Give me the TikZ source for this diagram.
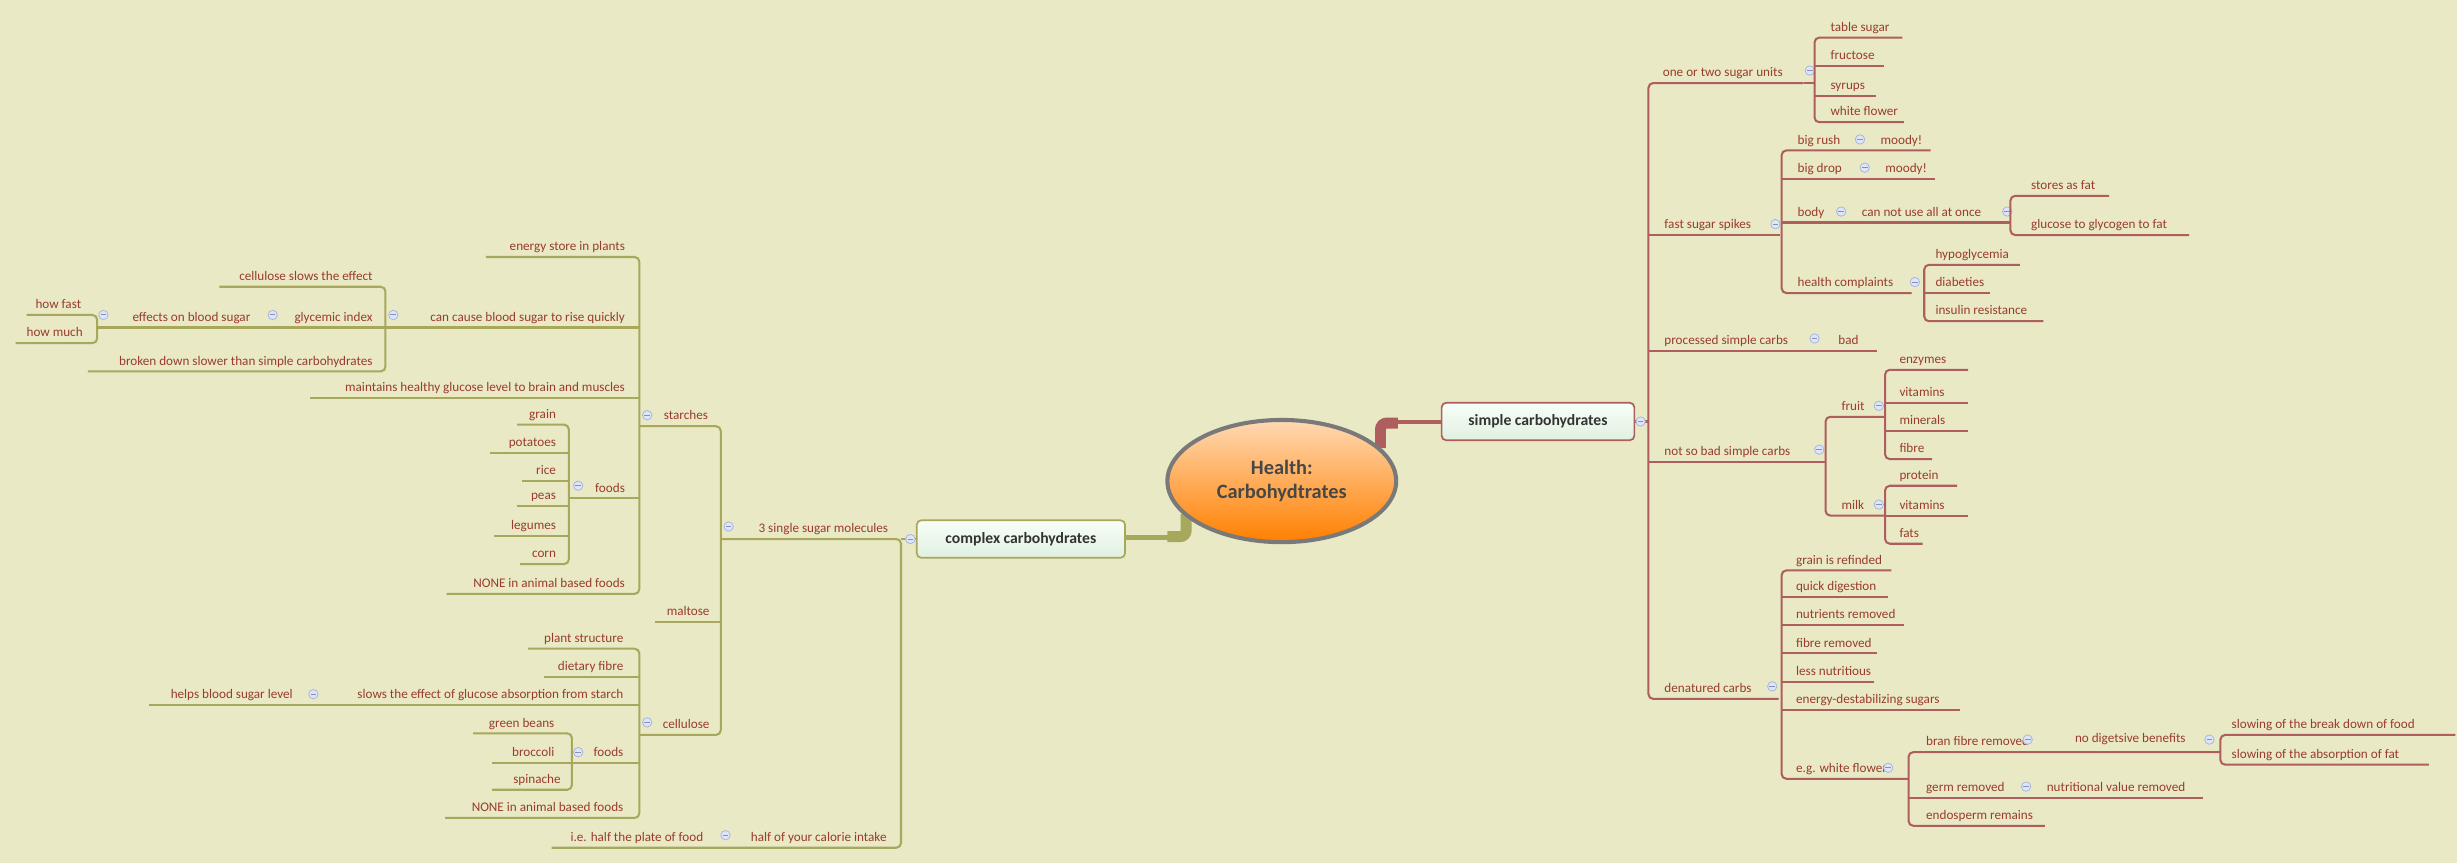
\documentclass[tikz,border=0pt]{standalone}
\usepackage{fontspec}
\setmainfont{Carlito}
\usetikzlibrary{shapes.geometric}
\begin{document}
\begin{tikzpicture}[x=1pt,y=-1pt,
  rl/.style={draw=rline,line width=1.3,rounded corners=3},
  ll/.style={draw=lline,line width=1.3,rounded corners=3},
  tx/.style={text=txt,inner sep=0,font=\fontsize{8.4}{10}\selectfont},
  mk/.style={circle,minimum size=6,inner sep=0,draw=mkb,fill=mkf,line width=0.5,
    path picture={\draw[mkb!80!black,line width=0.6]([xshift=-1.8pt]path picture bounding box.center)--([xshift=1.8pt]path picture bounding box.center);}}]
\definecolor{bg}{HTML}{E9E9C6}
\definecolor{rline}{HTML}{AE5E5C}
\definecolor{lline}{HTML}{A8A85C}
\definecolor{txt}{HTML}{9A3C2C}
\definecolor{mkb}{HTML}{A6B6E2}
\definecolor{mkf}{HTML}{DEE5F6}
\fill[bg] (0,0) rectangle (1568,551);
\useasboundingbox (0,0) rectangle (1568,551);
% macros
\newcommand\R[4]{\node[tx,anchor=base west] (#1) at (#2,#3-4) {#4};}
\newcommand\Lt[4]{\node[tx,anchor=base east] (#1) at (#2,#3-4) {#4};}
\newcommand\Mk[3]{\node[mk] (#1) at (#2,#3) {};}
\newcommand\Br[6]{\draw[#1] (#4,#3) -- (#2,#3) -- (#2,#5) -- (#6,#5);}
\newcommand\Hl[4]{\draw[#1] (#2,#4) -- (#3,#4);}

% ---------- centre ----------
\draw[rline,line width=7,rounded corners=4] (881,286) -- (881,270) -- (892,270);
\draw[rline,line width=2.5] (888,269.5) -- (920,269.5);
\draw[lline,line width=7,rounded corners=4] (757,328) -- (757,342.5) -- (745,342.5);
\draw[lline,line width=3.5] (748,343) -- (718,343);
\node[ellipse,minimum width=146,minimum height=78,draw=gray!95!black,line width=2.6,
  top color=orange!30!white,bottom color=orange,shading angle=0,
  font=\bfseries\fontsize{13}{15}\selectfont,text=black!72,align=center] (root) at (818,307) {Health:\\Carbohydtrates};
\node[draw=rline,line width=1.1,rounded corners=3,top color=green!3!white,bottom color=green!50!black!12!white,
  minimum width=123,minimum height=24,font=\bfseries\fontsize{10}{12}\selectfont,text=black!80] (simple) at (981.5,269) {simple carbohydrates};
\node[draw=lline,line width=1.1,rounded corners=3,top color=green!3!white,bottom color=green!50!black!12!white,
  minimum width=133,minimum height=24,font=\bfseries\fontsize{10}{12}\selectfont,text=black!80] (complex) at (651.5,344) {complex carbohydrates};

% ---------- right side ----------
\draw[rl] (simple.east) -- (1052,269);
\Mk{ms}{1047}{269}
\Br{rl}{1052}{53}{1151}{446}{1135}
\Hl{rl}{1052}{1136}{150}\Hl{rl}{1052}{1198}{224}\Hl{rl}{1052}{1165}{295}
\R{a1}{1061}{53}{one or two sugar units}\Mk{m1}{1155}{45}
\R{a2}{1062}{150}{fast sugar spikes}\Mk{m2}{1133}{143}
\R{a3}{1062}{224}{processed simple carbs}\Mk{m3}{1158}{216}\R{a3b}{1173}{224}{bad}
\R{a4}{1062}{295}{not so bad simple carbs}\Mk{m4}{1161}{287}
\R{a5}{1062}{446}{denatured carbs}\Mk{m5}{1131}{438}
% B
\Hl{rl}{1151}{1158}{53}
\Br{rl}{1158}{24}{1214}{78}{1215}\Hl{rl}{1158}{1202}{42}\Hl{rl}{1158}{1197}{61}
\R{b1}{1168}{24}{table sugar}\R{b2}{1168}{42}{fructose}\R{b3}{1168}{61}{syrups}\R{b4}{1168}{78}{white flower}
% C
\Br{rl}{1137}{96}{1232}{187}{1220}\Hl{rl}{1137}{1235}{114}\Hl{rl}{1137}{1283}{142}
\R{c1}{1147}{96}{big rush}\Mk{mc1}{1187}{89}\R{c1b}{1200}{96}{moody!}
\R{c2}{1147}{114}{big drop}\Mk{mc2}{1190}{107}\R{c2b}{1203}{114}{moody!}
\R{c3}{1147}{142}{body}\Mk{mc3}{1175}{135}\R{c3b}{1188}{142}{can not use all at once}\Mk{mc4}{1281}{135}
\R{c4}{1147}{187}{health complaints}\Mk{mc5}{1222}{180}
% D
\Br{rl}{1283}{125}{1346}{150}{1397}
\R{d1}{1296}{125}{stores as fat}\R{d2}{1296}{150}{glucose to glycogen to fat}
% E
\Br{rl}{1228}{169}{1289}{205}{1304}\Hl{rl}{1228}{1270}{187}
\R{e1}{1235}{169}{hypoglycemia}\R{e2}{1235}{187}{diabeties}\R{e3}{1235}{205}{insulin resistance}
% F
\Br{rl}{1165}{266}{1203}{329}{1203}
\R{f1}{1175}{266}{fruit}\Mk{mf1}{1199}{259}\R{f2}{1175}{329}{milk}\Mk{mf2}{1199}{322}
\Br{rl}{1203}{236}{1256}{293}{1233}\Hl{rl}{1203}{1256}{257}\Hl{rl}{1203}{1256}{275}
\R{g1}{1212}{236}{enzymes}\R{g2}{1212}{257}{vitamins}\R{g3}{1212}{275}{minerals}\R{g4}{1212}{293}{fibre}
\Br{rl}{1203}{310}{1249}{347}{1227}\Hl{rl}{1203}{1256}{329}
\R{h1}{1212}{310}{protein}\R{h2}{1212}{329}{vitamins}\R{h3}{1212}{347}{fats}
% G
\Br{rl}{1137}{364}{1207}{497}{1218}
\Hl{rl}{1137}{1205}{381}\Hl{rl}{1137}{1215}{399}\Hl{rl}{1137}{1198}{417}\Hl{rl}{1137}{1196}{435}\Hl{rl}{1137}{1251}{453}
\R{i1}{1146}{364}{grain is refinded}\R{i2}{1146}{381}{quick digestion}\R{i3}{1146}{399}{nutrients removed}
\R{i4}{1146}{417}{fibre removed}\R{i5}{1146}{435}{less nutritious}\R{i6}{1146}{453}{energy-destabilizing sugars}
\R{i7}{1146}{497}{e.g. white flower}\Mk{mi7}{1205}{490}
% H
\Br{rl}{1218}{480}{1417}{527}{1305}\Hl{rl}{1218}{1406}{509}
\R{j1}{1229}{480}{bran fibre removed}\Mk{mj1}{1294}{472}\R{j1b}{1324}{478}{no digetsive benefits}\Mk{mj2}{1410}{472}
\R{j2}{1229}{509}{germ removed}\Mk{mj3}{1293}{502}\R{j2b}{1306}{509}{nutritional value removed}
\R{j3}{1229}{527}{endosperm remains}
% I
\Br{rl}{1417}{469}{1567}{488}{1550}
\R{k1}{1424}{469}{slowing of the break down of food}\R{k2}{1424}{488}{slowing of the absorption of fat}

% ---------- left side ----------
\draw[ll] (complex.west) -- (575,344);
\Mk{mcx}{581}{344}
\Br{ll}{575}{344}{460}{541}{352}
\Lt{l1}{567}{344}{3 single sugar molecules}\Mk{ml1}{465}{336}
\Lt{l2}{566}{541}{half of your calorie intake}\Mk{ml2}{463}{533}\Lt{l2b}{449}{541}{i.e. half the plate of food}
% L2
\Br{ll}{460}{272}{408}{469}{408}\Hl{ll}{460}{418}{397}
\Lt{n1}{452}{272}{starches}\Mk{mn1}{413}{265}
\Lt{n2}{453}{397}{maltose}
\Lt{n3}{453}{469}{cellulose}\Mk{mn3}{413}{461}
% L3
\Br{ll}{408}{164}{310}{379}{285}\Hl{ll}{408}{246}{209}\Hl{ll}{408}{198}{254}\Hl{ll}{408}{363}{318}
\Lt{o1}{399}{164}{energy store in plants}
\Lt{o2}{399}{209}{can cause blood sugar to rise quickly}\Mk{mo2}{251}{201}
\Lt{o3}{399}{254}{maintains healthy glucose level to brain and muscles}
\Lt{o4}{399}{318}{foods}\Mk{mo4}{369}{310}
\Lt{o5}{399}{379}{NONE in animal based foods}
% L4
\Br{ll}{246}{183}{140}{237}{56}\Hl{ll}{246}{62}{209}
\Lt{p1}{238}{183}{cellulose slows the effect}
\Lt{p2}{238}{209}{glycemic index}\Mk{mp2}{174}{201}
\Lt{p2b}{160}{209}{effects on blood sugar}\Mk{mp3}{66}{201}
\Lt{p3}{238}{237}{broken down slower than simple carbohydrates}
% L5
\Br{ll}{62}{201}{17}{219}{10}
\Lt{q1}{52}{201}{how fast}\Lt{q2}{53}{219}{how much}
% L6
\Br{ll}{363}{271}{330}{360}{332}
\Hl{ll}{363}{313}{289}\Hl{ll}{363}{333}{307}\Hl{ll}{363}{330}{323}\Hl{ll}{363}{315}{342}
\Lt{r1}{355}{271}{grain}\Lt{r2}{355}{289}{potatoes}\Lt{r3}{355}{307}{rice}
\Lt{r4}{355}{323}{peas}\Lt{r5}{355}{342}{legumes}\Lt{r6}{355}{360}{corn}
% L7
\Br{ll}{408}{414}{337}{522}{284}\Hl{ll}{408}{347}{432}\Hl{ll}{408}{95}{450}\Hl{ll}{408}{365}{487}
\Lt{s1}{398}{414}{plant structure}\Lt{s2}{398}{432}{dietary fibre}
\Lt{s3}{398}{450}{slows the effect of glucose absorption from starch}\Mk{ms3}{200}{443}
\Lt{s3b}{187}{450}{helps blood sugar level}
\Lt{s4}{398}{487}{foods}\Mk{ms4}{369}{480}
\Lt{s5}{398}{522}{NONE in animal based foods}
% L8
\Br{ll}{365}{468}{302}{504}{314}\Hl{ll}{365}{314}{487}
\Lt{u1}{354}{468}{green beans}\Lt{u2}{354}{487}{broccoli}\Lt{u3}{358}{504}{spinache}
\end{tikzpicture}
\end{document}
